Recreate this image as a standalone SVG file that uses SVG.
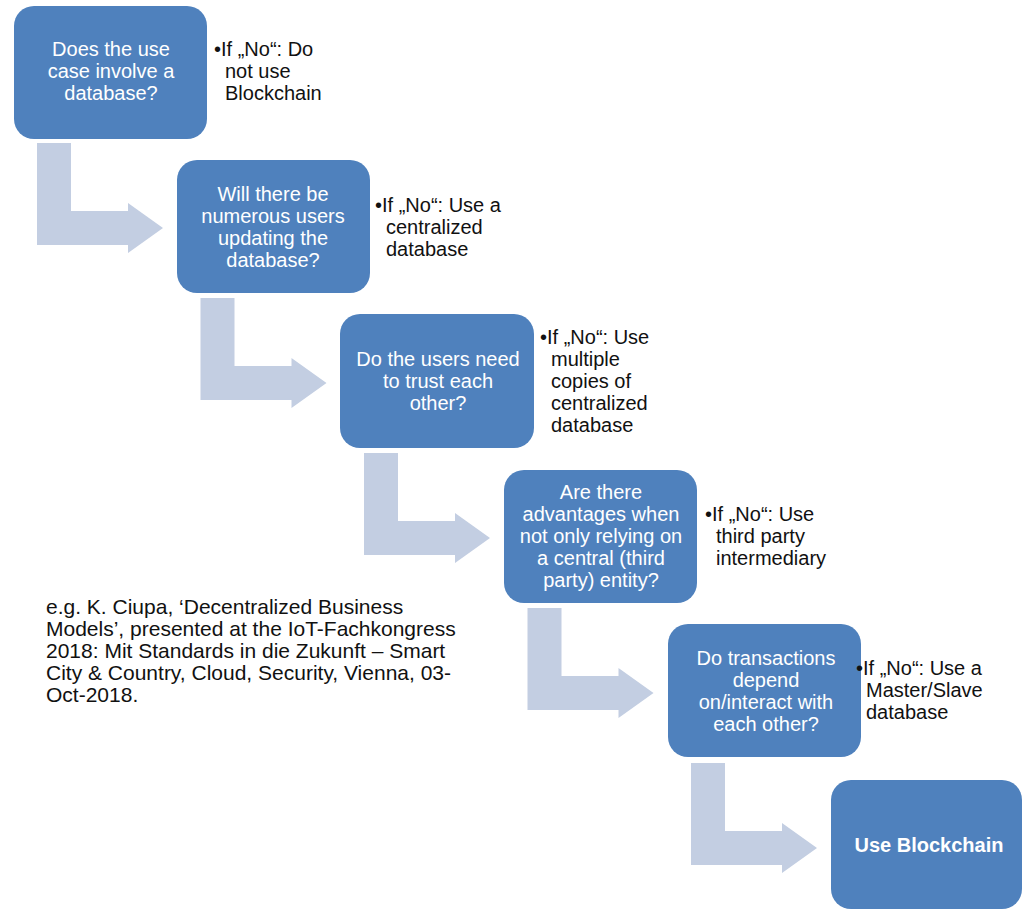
<svg xmlns="http://www.w3.org/2000/svg" width="1023" height="910" viewBox="0 0 1023 910">
<style>
.box{fill:#4F81BD;}
.arr{fill:#C3CEE2;}
.bt{font-family:"Liberation Sans",Arial,sans-serif;font-size:20px;fill:#FFFFFF;text-anchor:middle;}
.bb{font-weight:bold;}
.st{font-family:"Liberation Sans",Arial,sans-serif;font-size:20px;fill:#111111;}
.ct{font-family:"Liberation Sans",Arial,sans-serif;font-size:21px;fill:#111111;}
</style>
<defs>
<polygon id="bent" points="37,143 71,143 71,211 128,211 128,203 163,228 128,253 128,245 37,245"/>
</defs>
<rect width="1023" height="910" fill="#FFFFFF"/>
<g id="connectors">
<use href="#bent" class="arr"/>
<use href="#bent" class="arr" transform="translate(163.5,155)"/>
<use href="#bent" class="arr" transform="translate(327,310)"/>
<use href="#bent" class="arr" transform="translate(490.5,465)"/>
<use href="#bent" class="arr" transform="translate(654,620)"/>
</g>
<g id="n1">
<rect class="box" x="14" y="6" width="193" height="133" rx="20"/>
<text class="bt" x="111" y="56">Does the use</text>
<text class="bt" x="111" y="78">case involve a</text>
<text class="bt" x="111" y="100">database?</text>
</g>
<g id="s1">
<text class="st" x="214" y="56">•If „No“: Do</text>
<text class="st" x="225" y="78">not use</text>
<text class="st" x="225" y="100">Blockchain</text>
</g>
<g id="n2">
<rect class="box" x="177" y="160" width="193" height="133" rx="20"/>
<text class="bt" x="273" y="201">Will there be</text>
<text class="bt" x="273" y="223">numerous users</text>
<text class="bt" x="273" y="245">updating the</text>
<text class="bt" x="273" y="267">database?</text>
</g>
<g id="s2">
<text class="st" x="375" y="212">•If „No“: Use a</text>
<text class="st" x="386" y="234">centralized</text>
<text class="st" x="386" y="256">database</text>
</g>
<g id="n3">
<rect class="box" x="340" y="314" width="194" height="134" rx="20"/>
<text class="bt" x="438" y="366">Do the users need</text>
<text class="bt" x="438" y="388">to trust each</text>
<text class="bt" x="438" y="410">other?</text>
</g>
<g id="s3">
<text class="st" x="540" y="344">•If „No“: Use</text>
<text class="st" x="551" y="366">multiple</text>
<text class="st" x="551" y="388">copies of</text>
<text class="st" x="551" y="410">centralized</text>
<text class="st" x="551" y="432">database</text>
</g>
<g id="n4">
<rect class="box" x="504" y="470" width="193" height="133" rx="20"/>
<text class="bt" x="601" y="499">Are there</text>
<text class="bt" x="601" y="521">advantages when</text>
<text class="bt" x="601" y="543">not only relying on</text>
<text class="bt" x="601" y="565">a central (third</text>
<text class="bt" x="601" y="587">party) entity?</text>
</g>
<g id="s4">
<text class="st" x="705" y="521">•If „No“: Use</text>
<text class="st" x="716" y="543">third party</text>
<text class="st" x="716" y="565">intermediary</text>
</g>
<g id="n5">
<rect class="box" x="668" y="624" width="193" height="133" rx="20"/>
<text class="bt" x="766" y="665">Do transactions</text>
<text class="bt" x="766" y="687">depend</text>
<text class="bt" x="766" y="709">on/interact with</text>
<text class="bt" x="766" y="731">each other?</text>
</g>
<g id="s5">
<text class="st" x="856" y="675">•If „No“: Use a</text>
<text class="st" x="866" y="697">Master/Slave</text>
<text class="st" x="866" y="719">database</text>
</g>
<g id="n6">
<rect class="box" x="831" y="780" width="191" height="129" rx="20"/>
<text class="bt bb" x="929" y="852">Use Blockchain</text>
</g>
<g id="citation">
<text class="ct" x="46" y="614">e.g. K. Ciupa, ‘Decentralized Business</text>
<text class="ct" x="46" y="636">Models’, presented at the IoT-Fachkongress</text>
<text class="ct" x="46" y="658">2018: Mit Standards in die Zukunft – Smart</text>
<text class="ct" x="46" y="680">City &amp; Country, Cloud, Security, Vienna, 03-</text>
<text class="ct" x="46" y="702">Oct-2018.</text>
</g>
</svg>
